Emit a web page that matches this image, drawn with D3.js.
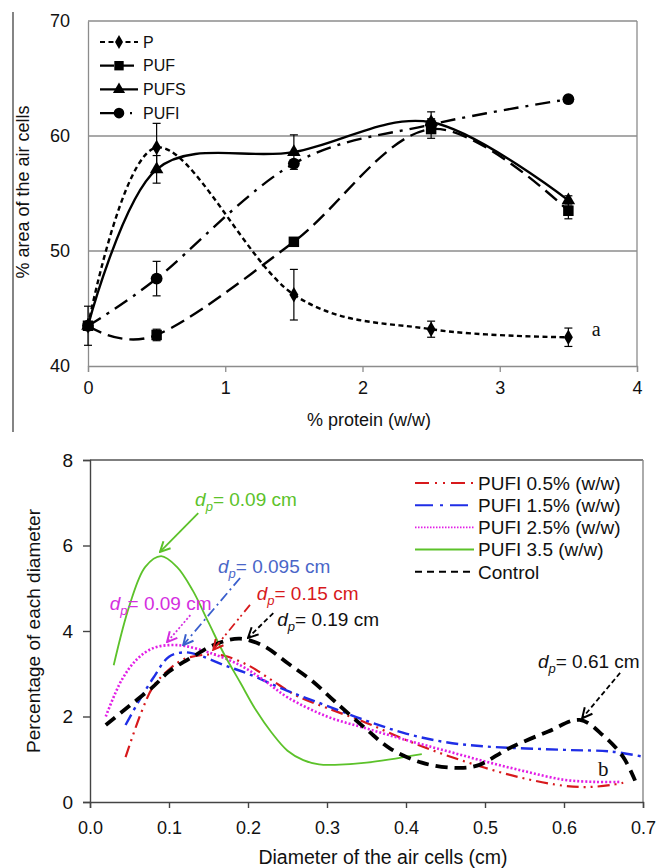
<!DOCTYPE html>
<html>
<head>
<meta charset="utf-8">
<script src="https://cdn.jsdelivr.net/npm/d3@7"></script>
<style>
  body { margin: 0; background: #fff; }
  svg { font-family: "Liberation Sans", Arial, sans-serif; }
</style>
</head>
<body>
<script>
// ---------- top chart: % area of the air cells vs % protein
var protein = [0, 0.5, 1.5, 2.5, 3.5];
var areaP    = [43.5, 59.0, 46.2, 43.2, 42.5];
var areaPUF  = [43.5, 42.7, 50.8, 60.6, 53.5];
var areaPUFS = [43.5, 57.1, 58.6, 61.2, 54.4];
var areaPUFI = [43.5, 47.6, 57.6, 61.0, 63.2];
var errP    = [1.7, 2.1, 2.2, 0.7, 0.8];
var errPUF  = [0, 0.5, 0, 0.8, 0.7];
var errPUFS = [0, 1.2, 1.5, 0.9, 0.4];
var errPUFI = [0, 1.5, 0.3, 0.5, 0];
var topNames = ["P", "PUF", "PUFS", "PUFI"];
var topXTicks = [0, 1, 2, 3, 4];
var topYTicks = [40, 50, 60, 70];

// ---------- bottom chart: distribution of air cell diameters
var bottomNames = ["PUFI 0.5% (w/w)", "PUFI 1.5% (w/w)", "PUFI 2.5% (w/w)", "PUFI 3.5 (w/w)", "Control"];
var diam05 = [0.045, 0.065, 0.08, 0.1, 0.12, 0.15, 0.17, 0.2, 0.23, 0.26, 0.3, 0.35, 0.4, 0.45, 0.5, 0.55, 0.6, 0.63, 0.66, 0.675];
var pct05  = [1.05, 2.1, 2.7, 3.1, 3.35, 3.45, 3.42, 3.2, 2.85, 2.5, 2.2, 1.85, 1.45, 1.1, 0.8, 0.55, 0.38, 0.35, 0.4, 0.45];
var diam15 = [0.045, 0.06, 0.08, 0.1, 0.12, 0.14, 0.17, 0.2, 0.25, 0.3, 0.35, 0.4, 0.45, 0.5, 0.6, 0.66, 0.7];
var pct15  = [1.8, 2.3, 2.9, 3.4, 3.5, 3.42, 3.2, 3.0, 2.6, 2.25, 1.9, 1.6, 1.4, 1.3, 1.22, 1.18, 1.06];
var diam25 = [0.02, 0.04, 0.06, 0.08, 0.1, 0.12, 0.15, 0.19, 0.22, 0.25, 0.3, 0.35, 0.4, 0.45, 0.5, 0.55, 0.6, 0.64, 0.67];
var pct25  = [2.0, 2.85, 3.35, 3.6, 3.67, 3.65, 3.5, 3.2, 2.85, 2.45, 2.0, 1.72, 1.45, 1.2, 0.95, 0.72, 0.52, 0.47, 0.47];
var diam35 = [0.03, 0.05, 0.07, 0.09, 0.11, 0.13, 0.15, 0.17, 0.19, 0.21, 0.23, 0.25, 0.27, 0.29, 0.31, 0.35, 0.42];
var pct35  = [3.2, 4.6, 5.5, 5.75, 5.5, 4.95, 4.2, 3.45, 2.8, 2.15, 1.62, 1.2, 0.98, 0.88, 0.87, 0.92, 1.12];
var diamCtl = [0.02, 0.05, 0.08, 0.1, 0.13, 0.16, 0.19, 0.22, 0.25, 0.28, 0.31, 0.35, 0.38, 0.42, 0.46, 0.49, 0.53, 0.58, 0.62, 0.65, 0.675, 0.69];
var pctCtl  = [1.8, 2.25, 2.7, 3.05, 3.4, 3.7, 3.82, 3.65, 3.25, 2.85, 2.35, 1.7, 1.25, 0.92, 0.8, 0.85, 1.25, 1.65, 1.92, 1.55, 1.05, 0.5];
var bottomXTicks = [0, 0.1, 0.2, 0.3, 0.4, 0.5, 0.6, 0.7];
var bottomYTicks = [0, 2, 4, 6, 8];

// annotations (data units): label, text pos, arrow start, arrow end
var noteLabels = ["= 0.09 cm", "= 0.095 cm", "= 0.15 cm", "= 0.19 cm", "= 0.09 cm", "= 0.61 cm"];
var noteText   = [[0.133, 6.92], [0.162, 5.35], [0.211, 4.72], [0.237, 4.12], [0.025, 4.5], [0.567, 3.13]];
var noteFrom   = [[0.137, 6.76], [0.19, 5.24], [0.2025, 4.61], [0.232, 4.42], [0.127, 4.37], [0.671, 3.02]];
var noteTo     = [[0.0886, 5.85], [0.118, 3.67], [0.156, 3.56], [0.2, 3.84], [0.0975, 3.74], [0.623, 1.96]];

var svgWidth = 657;
var svgHeight = 868;

var svg = d3.select("body")
  .append("svg")
  .attr("width", svgWidth)
  .attr("height", svgHeight);

// =================== TOP CHART ===================
var xTop = d3.scaleLinear().domain([0, 4]).range([88, 637]);
var yTop = d3.scaleLinear().domain([40, 70]).range([366, 21]);

// border line at far left of the figure panel
svg.append("line")
  .attr("x1", 13).attr("x2", 13)
  .attr("y1", 12).attr("y2", 432)
  .attr("stroke", "#333").attr("stroke-width", 1.2);

// gridlines and frame
svg.append("g").selectAll("line")
  .data([50, 60, 70])
  .enter()
  .append("line")
  .attr("x1", xTop(0)).attr("x2", xTop(4))
  .attr("y1", d => yTop(d)).attr("y2", d => yTop(d))
  .attr("stroke", "#8c8c8c").attr("stroke-width", 1.3);

svg.append("line")
  .attr("x1", xTop(4)).attr("x2", xTop(4))
  .attr("y1", yTop(70)).attr("y2", yTop(40))
  .attr("stroke", "#8c8c8c").attr("stroke-width", 1.3);

var topBottomAxis = d3.axisBottom(xTop).tickValues(topXTicks).tickSize(6).tickFormat(d3.format("d"));
var topXAxis = svg.append("g")
  .attr("transform", `translate(0, ${yTop(40)})`)
  .call(topBottomAxis);
topXAxis.select(".domain").attr("stroke", "#8c8c8c").attr("stroke-width", 1.3);
topXAxis.selectAll(".tick line").attr("stroke", "#8c8c8c").attr("stroke-width", 1.3);
topXAxis.selectAll("text").attr("font-size", "18px").attr("fill", "#111").attr("dy", "1.05em")
  .attr("font-family", "Liberation Sans, Arial, sans-serif");

var topLeftAxis = d3.axisLeft(yTop).tickValues(topYTicks).tickSize(0).tickPadding(18);
var topYAxis = svg.append("g")
  .attr("transform", `translate(${xTop(0)}, 0)`)
  .call(topLeftAxis);
topYAxis.select(".domain").attr("stroke", "#8c8c8c").attr("stroke-width", 1.3);
topYAxis.selectAll("text").attr("font-size", "18px").attr("fill", "#111")
  .attr("font-family", "Liberation Sans, Arial, sans-serif");

svg.append("text")
  .attr("transform", `translate(29, 192) rotate(-90)`)
  .attr("text-anchor", "middle")
  .attr("font-size", "18px")
  .attr("fill", "#111")
  .text("% area of the air cells");

svg.append("text")
  .attr("x", 369).attr("y", 426)
  .attr("text-anchor", "middle")
  .attr("font-size", "18px")
  .attr("fill", "#111")
  .text("% protein (w/w)");

var topSeries = [
  { name: "P", vals: areaP, err: errP, dash: "5,3.5", symbol: d3.symbolDiamond, size: 70 },
  { name: "PUF", vals: areaPUF, err: errPUF, dash: "15,7", symbol: d3.symbolSquare, size: 110 },
  { name: "PUFS", vals: areaPUFS, err: errPUFS, dash: null, symbol: d3.symbolTriangle, size: 80 },
  { name: "PUFI", vals: areaPUFI, err: errPUFI, dash: "15,7,3,7", symbol: d3.symbolCircle, size: 110 }
];

var topLine = d3.line()
  .x(d => xTop(d[0]))
  .y(d => yTop(d[1]))
  .curve(d3.curveCardinal.tension(0));

topSeries.forEach(function(s) {
  var pts = protein.map((p, i) => [p, s.vals[i]]);
  svg.append("path")
    .datum(pts)
    .attr("d", topLine)
    .attr("fill", "none")
    .attr("stroke", "#000")
    .attr("stroke-width", 2.4)
    .attr("stroke-dasharray", s.dash);
});

// error bars
topSeries.forEach(function(s) {
  var g = svg.append("g").attr("stroke", "#000").attr("stroke-width", 1.2);
  protein.forEach(function(p, i) {
    var e = s.err[i];
    if (!e) return;
    var cx = xTop(p);
    g.append("line").attr("x1", cx).attr("x2", cx)
      .attr("y1", yTop(s.vals[i] - e)).attr("y2", yTop(s.vals[i] + e));
    g.append("line").attr("x1", cx - 4).attr("x2", cx + 4)
      .attr("y1", yTop(s.vals[i] - e)).attr("y2", yTop(s.vals[i] - e));
    g.append("line").attr("x1", cx - 4).attr("x2", cx + 4)
      .attr("y1", yTop(s.vals[i] + e)).attr("y2", yTop(s.vals[i] + e));
  });
});

// markers
topSeries.forEach(function(s) {
  svg.append("g").selectAll("path")
    .data(protein.map((p, i) => [p, s.vals[i]]))
    .enter()
    .append("path")
    .attr("d", d3.symbol().type(s.symbol).size(s.size))
    .attr("transform", d => `translate(${xTop(d[0])}, ${yTop(d[1])})`)
    .attr("fill", "#000");
});

// top legend
var topLegend = svg.append("g");
topSeries.forEach(function(s, i) {
  var ly = 42 + i * 23.7;
  topLegend.append("line")
    .attr("x1", 100).attr("x2", 138)
    .attr("y1", ly).attr("y2", ly)
    .attr("stroke", "#000").attr("stroke-width", 2.2)
    .attr("stroke-dasharray", s.name === "P" ? "5,3.5" : s.name === "PUF" ? "14,6" : s.name === "PUFI" ? "20,10,2,10" : null);
  topLegend.append("path")
    .attr("d", d3.symbol().type(s.symbol).size(s.size * 0.8))
    .attr("transform", `translate(119, ${ly})`)
    .attr("fill", "#000");
  topLegend.append("text")
    .attr("x", 143).attr("y", ly)
    .attr("dy", "0.36em")
    .attr("font-size", "16px")
    .attr("fill", "#111")
    .text(s.name);
});

svg.append("text")
  .attr("x", xTop(3.67)).attr("y", yTop(42.6))
  .attr("font-family", "Liberation Serif, Times New Roman, serif")
  .attr("font-size", "20px")
  .attr("fill", "#111")
  .text("a");

// =================== BOTTOM CHART ===================
var xBot = d3.scaleLinear().domain([0, 0.7]).range([90, 643]);
var yBot = d3.scaleLinear().domain([0, 8]).range([802, 460]);

svg.append("line")
  .attr("x1", xBot(0)).attr("x2", xBot(0.7))
  .attr("y1", yBot(8)).attr("y2", yBot(8))
  .attr("stroke", "#555").attr("stroke-width", 1.4);
svg.append("line")
  .attr("x1", xBot(0.7)).attr("x2", xBot(0.7))
  .attr("y1", yBot(8)).attr("y2", yBot(0))
  .attr("stroke", "#888").attr("stroke-width", 1.4);

var botBottomAxis = d3.axisBottom(xBot).tickValues(bottomXTicks).tickSize(6).tickFormat(d3.format(".1f"));
var botXAxis = svg.append("g")
  .attr("transform", `translate(0, ${yBot(0)})`)
  .call(botBottomAxis);
botXAxis.select(".domain").attr("stroke", "#444").attr("stroke-width", 1.4);
botXAxis.selectAll(".tick line").attr("stroke", "#444").attr("stroke-width", 1.4);
botXAxis.selectAll("text").attr("font-size", "18px").attr("fill", "#111").attr("dy", "1.25em")
  .attr("font-family", "Liberation Sans, Arial, sans-serif");

var botLeftAxis = d3.axisLeft(yBot).tickValues(bottomYTicks).tickSize(7).tickPadding(10);
var botYAxis = svg.append("g")
  .attr("transform", `translate(${xBot(0)}, 0)`)
  .call(botLeftAxis);
botYAxis.select(".domain").attr("stroke", "#444").attr("stroke-width", 1.4);
botYAxis.selectAll(".tick line").attr("stroke", "#444").attr("stroke-width", 1.4);
botYAxis.selectAll("text").attr("font-size", "19px").attr("fill", "#111")
  .attr("font-family", "Liberation Sans, Arial, sans-serif");

svg.append("text")
  .attr("transform", `translate(40, 631) rotate(-90)`)
  .attr("text-anchor", "middle")
  .attr("font-size", "19px")
  .attr("fill", "#111")
  .text("Percentage of each diameter");

svg.append("text")
  .attr("x", 383).attr("y", 864)
  .attr("text-anchor", "middle")
  .attr("font-size", "19.5px")
  .attr("fill", "#111")
  .text("Diameter of the air cells (cm)");

var botSeries = [
  { name: bottomNames[0], xs: diam05, ys: pct05, color: "#d7191c", width: 2.2, dash: "12,5,2,5,2,5", legDash: "14,6,2,6,2,6" },
  { name: bottomNames[1], xs: diam15, ys: pct15, color: "#1f2ee6", width: 2.4, dash: "12,5,3,5", legDash: "18,7,3,7" },
  { name: bottomNames[2], xs: diam25, ys: pct25, color: "#e21ee6", width: 2.6, dash: "2,2", legDash: "1.5,1.5" },
  { name: bottomNames[3], xs: diam35, ys: pct35, color: "#5cc22a", width: 1.8, dash: null, legDash: null },
  { name: bottomNames[4], xs: diamCtl, ys: pctCtl, color: "#000", width: 3.8, dash: "12,7", legDash: "7,5" }
];

var botLine = d3.line()
  .x(d => xBot(d[0]))
  .y(d => yBot(d[1]))
  .curve(d3.curveCatmullRom.alpha(0.5));

botSeries.forEach(function(s) {
  svg.append("path")
    .datum(s.xs.map((x, i) => [x, s.ys[i]]))
    .attr("d", botLine)
    .attr("fill", "none")
    .attr("stroke", s.color)
    .attr("stroke-width", s.width)
    .attr("stroke-dasharray", s.dash);
});

// bottom legend
var botLegend = svg.append("g");
botSeries.forEach(function(s, i) {
  var ly = 483 + i * 22.2;
  botLegend.append("line")
    .attr("x1", 415).attr("x2", 474)
    .attr("y1", ly).attr("y2", ly)
    .attr("stroke", s.color)
    .attr("stroke-width", i === 2 ? 1.6 : 2)
    .attr("stroke-dasharray", s.legDash);
  botLegend.append("text")
    .attr("x", 478).attr("y", ly)
    .attr("dy", "0.36em")
    .attr("font-size", "19px")
    .attr("fill", "#111")
    .text(s.name);
});

// annotations with arrows
var noteColors = ["#5cc22a", "#3a5fcd", "#d7191c", "#000", "#d42ee0", "#000"];
var noteTextColors = ["#5cc22a", "#4a66c8", "#d7191c", "#111", "#d42ee0", "#111"];
var noteDash = [null, "10,4,2,4", "9,4,2,3,2,4", "5,3", "2,2", "5,3"];
var defs = svg.append("defs");
noteColors.forEach(function(c, i) {
  defs.append("marker")
    .attr("id", "arrow" + i)
    .attr("viewBox", "0 0 12 12")
    .attr("refX", 11).attr("refY", 6)
    .attr("markerWidth", 12).attr("markerHeight", 12)
    .attr("markerUnits", "userSpaceOnUse")
    .attr("orient", "auto")
    .append("path")
    .attr("d", "M1,1 L11,6 L1,11")
    .attr("fill", "none")
    .attr("stroke", c)
    .attr("stroke-width", 2);
});

noteLabels.forEach(function(lbl, i) {
  svg.append("line")
    .attr("x1", xBot(noteFrom[i][0])).attr("y1", yBot(noteFrom[i][1]))
    .attr("x2", xBot(noteTo[i][0])).attr("y2", yBot(noteTo[i][1]))
    .attr("stroke", noteColors[i])
    .attr("stroke-width", 1.8)
    .attr("stroke-dasharray", noteDash[i])
    .attr("marker-end", `url(#arrow${i})`);
  var t = svg.append("text")
    .attr("x", xBot(noteText[i][0])).attr("y", yBot(noteText[i][1]))
    .attr("font-size", "19px")
    .attr("fill", noteTextColors[i]);
  t.append("tspan").attr("font-style", "italic").text("d");
  t.append("tspan").attr("font-style", "italic").attr("font-size", "13px").attr("dy", 5).text("p");
  t.append("tspan").attr("dy", -5).text(lbl);
});

svg.append("text")
  .attr("x", xBot(0.643)).attr("y", yBot(0.6))
  .attr("font-family", "Liberation Serif, Times New Roman, serif")
  .attr("font-size", "21px")
  .attr("fill", "#111")
  .text("b");
</script>
</body>
</html>
